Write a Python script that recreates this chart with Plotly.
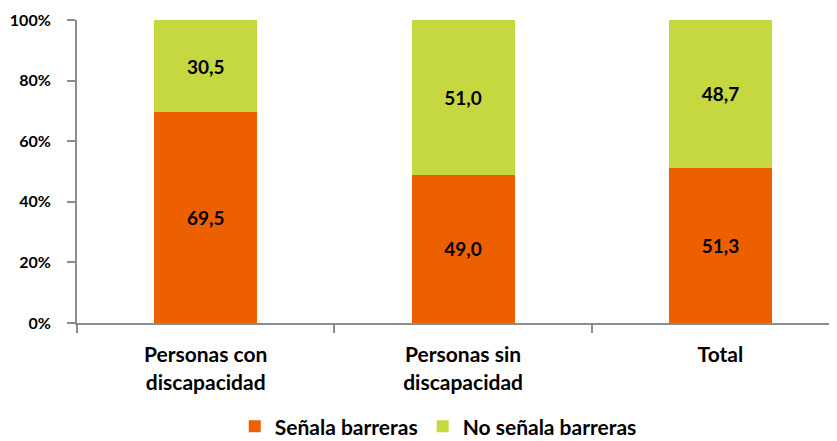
import plotly.graph_objects as go

categories = ["Personas con<br>discapacidad", "Personas sin<br>discapacidad", "Total"]
senala = [69.5, 49.0, 51.3]
no_senala = [30.5, 51.0, 48.7]
y_ticks = [0, 20, 40, 60, 80, 100]
y_tick_labels = ["0%", "20%", "40%", "60%", "80%", "100%"]

FONT = "Lato"
ORANGE = "#EC6000"
GREEN = "#C6D840"

# The page has an 8px body margin, so the figure is sized to fit the window.
fig = go.Figure()
fig.add_trace(go.Bar(
    x=categories, y=senala, name="Señala barreras",
    marker=dict(color=ORANGE, line=dict(width=0)),
    width=0.4,
    texttemplate="%{y:.1f}", textposition="inside", insidetextanchor="middle",
    textfont=dict(family=FONT, size=19, color="black", weight="bold"),
))
fig.add_trace(go.Bar(
    x=categories, y=no_senala, name="No señala barreras",
    marker=dict(color=GREEN, line=dict(width=0)),
    width=0.4,
    texttemplate="%{y:.1f}", textposition="inside", insidetextanchor="middle",
    textfont=dict(family=FONT, size=19, color="black", weight="bold"),
))

fig.update_layout(
    barmode="stack",
    width=829, height=433,
    margin=dict(l=69, r=0, t=12, b=118, autoexpand=False),
    plot_bgcolor="white", paper_bgcolor="white",
    separators=",.",
    font=dict(family=FONT, size=17, color="black", weight="bold"),
    showlegend=True,
    legend=dict(
        orientation="h", xref="container", yref="container",
        x=0.519, xanchor="center", y=0.033, yanchor="middle",
        font=dict(family=FONT, size=21, color="black", weight="bold"),
        traceorder="normal",
    ),
    xaxis=dict(
        range=[-0.5, 2.453], automargin=False,
        showline=True, linecolor="#8C8C8C", linewidth=2,
        ticks="outside", tickson="boundaries", ticklen=8, tickcolor="#8C8C8C", tickwidth=2,
        tickfont=dict(family=FONT, size=21, color="black", weight="bold"),
        showgrid=False, ticklabelstandoff=12,
    ),
    yaxis=dict(
        range=[0, 100], automargin=False,
        tickvals=y_ticks, ticktext=y_tick_labels,
        showline=True, linecolor="#8C8C8C", linewidth=2,
        ticks="outside", ticklen=8, tickcolor="#8C8C8C", tickwidth=2,
        tickfont=dict(family=FONT, size=16, color="black", weight="bold"),
        showgrid=False, zeroline=False,
        ticklabelstandoff=13,
    ),
)

fig.write_html("out.html")
